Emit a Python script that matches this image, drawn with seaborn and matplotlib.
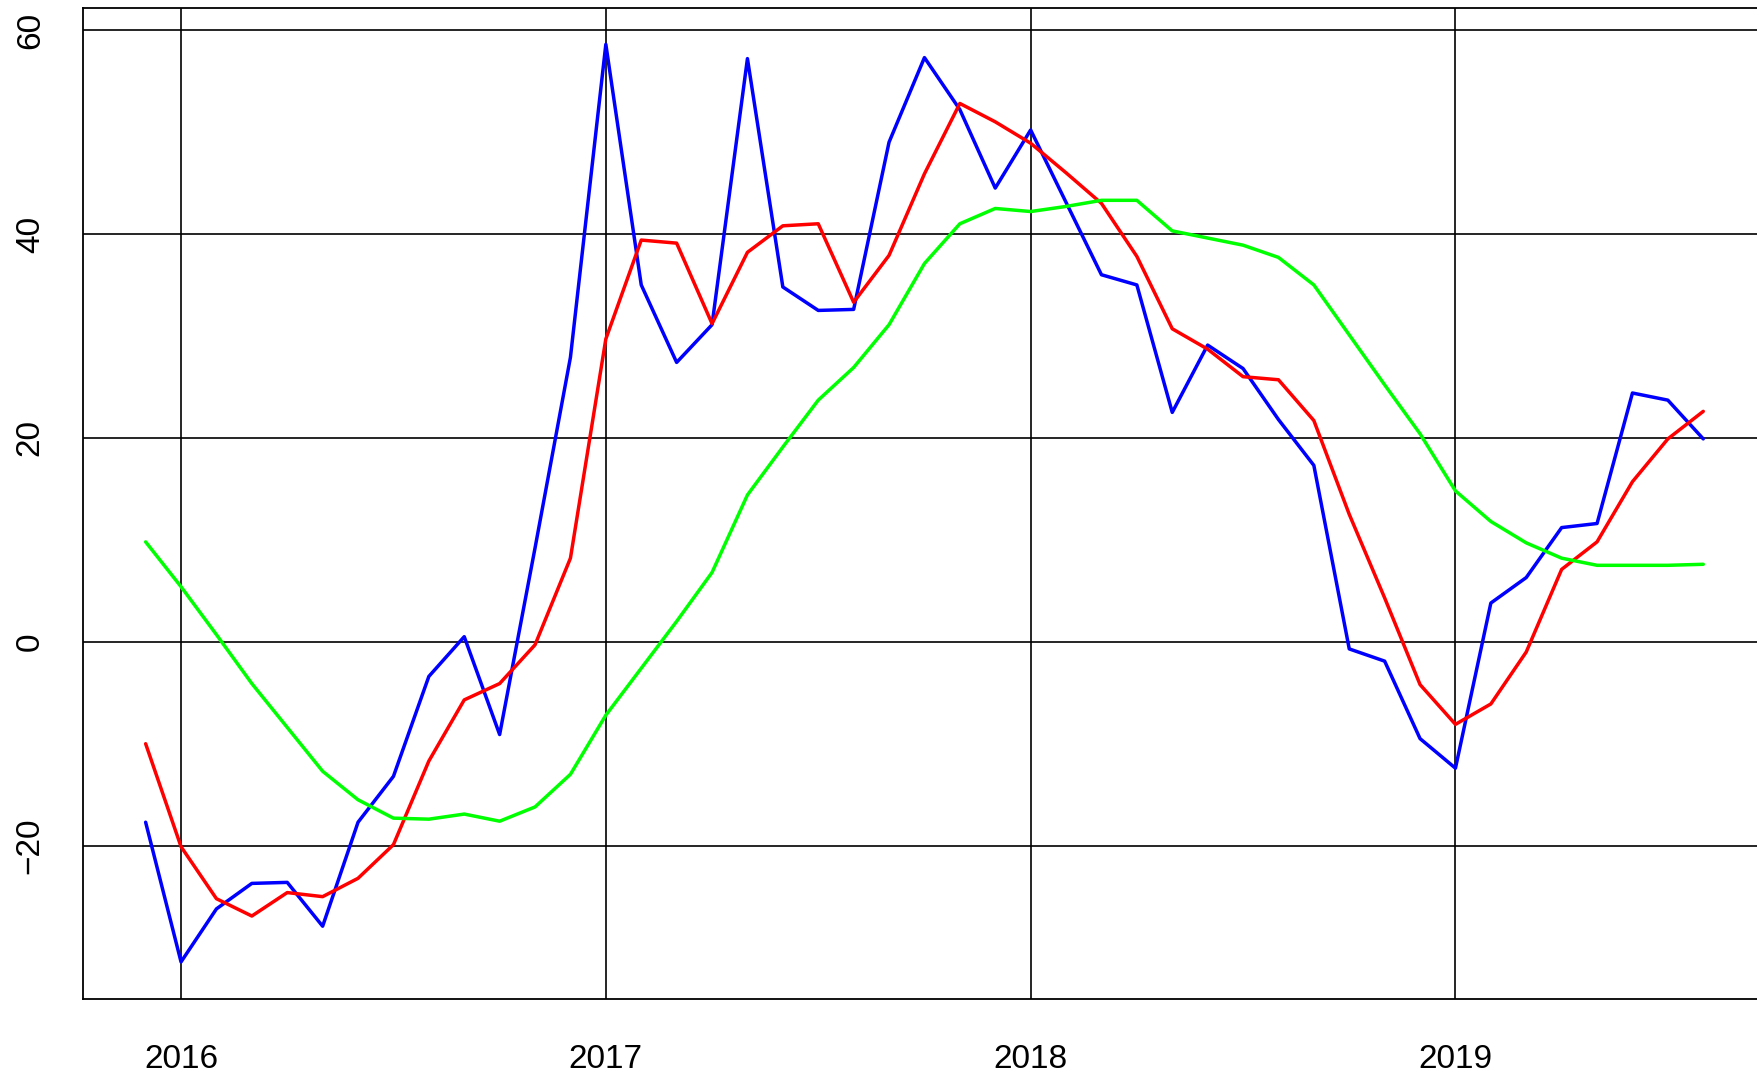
import numpy as np
import pandas as pd
import matplotlib
matplotlib.use("Agg")
import matplotlib.pyplot as plt
import seaborn as sns

sns.set_style("white")
plt.rcParams['font.family'] = ['Liberation Sans', 'DejaVu Sans']

# monthly series, Dec 2015 .. Aug 2019
start_year, start_month, n_months = 2015, 12, 45

blue_vals = [-17.7, -31.4, -26.2, -23.7, -23.6, -27.9, -17.7, -13.2, -3.4, 0.5,
             -9.1, 9.2, 27.9, 58.6, 35.0, 27.4, 31.1, 57.2, 34.8, 32.5,
             32.6, 49.0, 57.3, 52.2, 44.5, 50.2, 43.1, 36.0, 35.0, 22.5,
             29.1, 26.8, 21.8, 17.3, -0.7, -1.9, -9.5, -12.4, 3.8, 6.3,
             11.2, 11.6, 24.4, 23.7, 19.9]
red_vals = [-10.0, -20.1, -25.2, -26.9, -24.6, -25.0, -23.2, -19.9, -11.7, -5.7,
            -4.1, -0.3, 8.2, 29.7, 39.4, 39.1, 31.2, 38.2, 40.8, 41.0,
            33.3, 37.9, 45.9, 52.8, 51.0, 48.9, 46.0, 43.0, 37.8, 30.7,
            28.7, 26.0, 25.7, 21.7, 12.5, 4.3, -4.2, -8.1, -6.1, -1.0,
            7.1, 9.8, 15.7, 19.9, 22.6]
green_vals = [9.8, 5.4, 0.7, -4.1, -8.4, -12.7, -15.5, -17.3, -17.4, -16.9,
              -17.6, -16.2, -13.0, -7.2, -2.6, 2.0, 6.8, 14.4, 19.1, 23.7,
              26.9, 31.1, 37.1, 41.0, 42.5, 42.2, 42.7, 43.3, 43.3, 40.3,
              39.6, 38.9, 37.7, 35.0, 30.1, 25.2, 20.4, 14.8, 11.8, 9.7,
              8.2, 7.5, 7.5, 7.5, 7.6]

year_ticks = [2016, 2017, 2018, 2019]
y_ticks = [-20, 0, 20, 40, 60]

# decimal time like an R ts object (frequency 12)
dates = pd.date_range(f"{start_year}-{start_month:02d}-01", periods=n_months, freq="MS")
t = dates.year + (dates.month - 1) / 12.0

df = pd.DataFrame({'t': t, 'blue': blue_vals, 'red': red_vals, 'green': green_vals})

fig = plt.figure(figsize=(17.58, 10.74), dpi=100)
ax = fig.add_axes([0.0474, 0.0702, 0.9569, 0.9227])

sns.lineplot(data=df, x='t', y='blue', color='#0000FF', linewidth=2.5, ax=ax)
sns.lineplot(data=df, x='t', y='red', color='#FF0000', linewidth=2.5, ax=ax)
sns.lineplot(data=df, x='t', y='green', color='#00FF00', linewidth=2.5, ax=ax)

# R-style 4% padding of the data range
xr = t.max() - t.min()
ax.set_xlim(t.min() - 0.04 * xr, t.max() + 0.04 * xr)
all_y = np.concatenate([blue_vals, red_vals, green_vals])
yr = all_y.max() - all_y.min()
ax.set_ylim(all_y.min() - 0.04 * yr, all_y.max() + 0.04 * yr)

ax.set_xticks(year_ticks)
ax.set_xticklabels([str(y) for y in year_ticks])
ax.set_yticks(y_ticks)
ax.set_xlabel('')
ax.set_ylabel('')

ax.grid(True, color='black', lw=1.2)
for s in ax.spines.values():
    s.set_color('black')
    s.set_linewidth(1.3)

ax.tick_params(axis='x', length=0, labelsize=24, pad=32.5, colors='black')
ax.tick_params(axis='y', length=0, labelsize=24, pad=27, colors='black')
plt.setp(ax.get_yticklabels(), rotation=90, va='center')

fig.savefig('out.png', dpi=100)
